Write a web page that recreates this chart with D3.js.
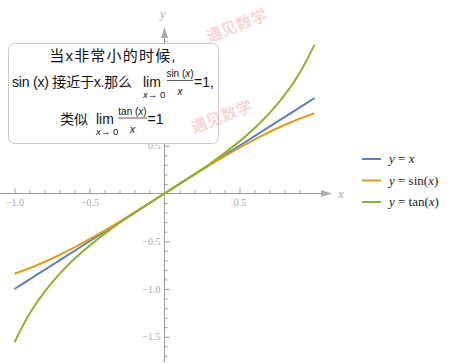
<!DOCTYPE html>
<html lang="zh">
<head>
<meta charset="utf-8">
<title>sin x, tan x near 0</title>
<script src="https://cdn.jsdelivr.net/npm/d3@7"></script>
<style>
  body { margin: 0; background: #fff; }
  svg { display: block; }
  .tick text { font-family: "Liberation Serif", serif; font-size: 10px; fill: #a9a9a9; }
  .tick line { stroke: #999; }
  .box text { font-family: "Liberation Sans", "Noto Sans CJK SC", sans-serif; fill: #111; }
</style>
</head>
<body>
<svg id="chart" width="450" height="363"></svg>
<script>
var xs      = [-1.0, -0.9, -0.8, -0.7, -0.6, -0.5, -0.4, -0.3, -0.2, -0.1, 0, 0.1, 0.2, 0.3, 0.4, 0.5, 0.6, 0.7, 0.8, 0.9, 1.0];
var sinVals = [-0.841, -0.783, -0.717, -0.644, -0.565, -0.479, -0.389, -0.296, -0.199, -0.100, 0, 0.100, 0.199, 0.296, 0.389, 0.479, 0.565, 0.644, 0.717, 0.783, 0.841];
var tanVals = [-1.557, -1.260, -1.030, -0.842, -0.684, -0.546, -0.423, -0.309, -0.203, -0.100, 0, 0.100, 0.203, 0.309, 0.423, 0.546, 0.684, 0.842, 1.030, 1.260, 1.557];
var idVals  = xs.slice();

var seriesNames  = ["x", "sin", "tan"];
var seriesColors = ["#5e81b5", "#e19c24", "#8fb131"];
var xMajor = [-1.0, -0.5, 0.5];
var yMajor = [-1.5, -1.0, -0.5, 0.5, 1.0, 1.5];
var yHidden = [1.0, 1.5]; // labels sitting under the note box

var svg = d3.select("#chart");

var x = d3.scaleLinear().domain([-1, 1]).range([14.5, 314.5]);
var y = d3.scaleLinear().domain([-1, 1]).range([289, 98]);
var x0 = x(0), y0 = y(0);

var xMinor = d3.range(-10, 10).map(function(d) { return d / 10; })
  .filter(function(d) { return d !== 0 && xMajor.indexOf(d) < 0; });
var yMinor = d3.range(-17, 17).map(function(d) { return d / 10; })
  .filter(function(d) { return d !== 0 && yMajor.indexOf(d) < 0; });

// axes lines with arrows
svg.append("line").attr("x1", 0).attr("x2", 325).attr("y1", y0).attr("y2", y0)
  .attr("stroke", "#999").attr("stroke-width", 1);
svg.append("path").attr("d", "M" + 332 + "," + y0 + "L321," + (y0 - 3.5) + "L321," + (y0 + 3.5) + "Z")
  .attr("fill", "#aaa");
svg.append("line").attr("x1", x0).attr("x2", x0).attr("y1", 362).attr("y2", 34)
  .attr("stroke", "#999").attr("stroke-width", 1);
svg.append("path").attr("d", "M" + x0 + ",27L" + (x0 - 3.5) + ",38L" + (x0 + 3.5) + ",38Z")
  .attr("fill", "#aaa");

// ticks
var fmt = d3.format(".1f");
svg.append("g").attr("transform", "translate(0," + y0 + ")")
  .call(d3.axisBottom(x).tickValues(xMinor).tickSizeInner(-3).tickSizeOuter(0).tickFormat(""))
  .call(function(g) { g.select(".domain").remove(); });
svg.append("g").attr("transform", "translate(0," + y0 + ")")
  .call(d3.axisBottom(x).tickValues(xMajor).tickSizeInner(-5).tickSizeOuter(0).tickPadding(5).tickFormat(fmt))
  .call(function(g) { g.select(".domain").remove(); });
svg.append("g").attr("transform", "translate(" + x0 + ",0)")
  .call(d3.axisLeft(y).tickValues(yMinor).tickSizeInner(-3).tickSizeOuter(0).tickFormat(""))
  .call(function(g) { g.select(".domain").remove(); });
svg.append("g").attr("transform", "translate(" + x0 + ",0)")
  .call(d3.axisLeft(y).tickValues(yMajor).tickSizeInner(-5).tickSizeOuter(0).tickPadding(4)
    .tickFormat(function(d) { return yHidden.indexOf(d) < 0 ? fmt(d) : ""; }))
  .call(function(g) { g.select(".domain").remove(); });

svg.append("text").attr("x", 341).attr("y", 198).text("x")
  .attr("font-family", "Liberation Serif, serif").attr("font-style", "italic")
  .attr("font-size", 12).attr("fill", "#aaa").attr("text-anchor", "middle");
svg.append("text").attr("x", 163).attr("y", 18).text("y")
  .attr("font-family", "Liberation Serif, serif").attr("font-style", "italic")
  .attr("font-size", 12).attr("fill", "#aaa").attr("text-anchor", "middle");

// curves
var series = [idVals, sinVals, tanVals];
var line = d3.line()
  .x(function(d) { return x(d[0]); })
  .y(function(d) { return y(d[1]); })
  .curve(d3.curveNatural);

series.forEach(function(vals, i) {
  svg.append("path")
    .datum(xs.map(function(v, j) { return [v, vals[j]]; }))
    .attr("fill", "none")
    .attr("stroke", seriesColors[i])
    .attr("stroke-width", 2)
    .attr("d", line);
});

// text box
var box = svg.append("g").attr("class", "box");
box.append("rect").attr("x", 8.5).attr("y", 43.5).attr("width", 210).attr("height", 100)
  .attr("rx", 6).attr("fill", "#fff").attr("stroke", "#c8c8c8");

box.append("text").attr("x", 113).attr("y", 61).attr("text-anchor", "middle")
  .attr("font-size", 15).attr("letter-spacing", 1.2).text("当x非常小的时候,");

box.append("text").attr("x", 12).attr("y", 86.5).attr("font-size", 14)
  .attr("textLength", 120).text("sin (x) 接近于x.那么");

function limit(lx, base, num, numCx, barX1, barX2, eqX, eqText) {
  box.append("text").attr("x", lx).attr("y", base).attr("font-size", 14).text("lim");
  var sub = box.append("text").attr("x", lx).attr("y", base + 11).attr("font-size", 9.5);
  sub.append("tspan").attr("font-style", "italic").text("x");
  sub.append("tspan").text("\u2192 0");
  var n = box.append("text").attr("x", numCx).attr("y", base - 9.5).attr("font-size", 10)
    .attr("text-anchor", "middle");
  n.append("tspan").text(num + " (");
  n.append("tspan").attr("font-style", "italic").text("x");
  n.append("tspan").text(")");
  box.append("line").attr("x1", barX1).attr("x2", barX2).attr("y1", base - 6).attr("y2", base - 6)
    .attr("stroke", "#333").attr("stroke-width", 0.8);
  box.append("text").attr("x", numCx).attr("y", base + 8.5).attr("font-size", 10)
    .attr("text-anchor", "middle").attr("font-style", "italic").text("x");
  box.append("text").attr("x", eqX).attr("y", base).attr("font-size", 14).text(eqText);
}
limit(143, 86.5, "sin", 180, 167, 193, 194, "=1,");

box.append("text").attr("x", 60).attr("y", 124).attr("font-size", 14).text("类似");
limit(96, 124, "tan", 132.5, 118, 147, 147.5, "=1");

// legend
var labels = [
  [["y", true], [" = ", false], ["x", true]],
  [["y", true], [" = sin(", false], ["x", true], [")", false]],
  [["y", true], [" = tan(", false], ["x", true], [")", false]]
];
var legY = [159, 180.5, 202];
seriesNames.forEach(function(nm, i) {
  svg.append("line").attr("x1", 362).attr("x2", 381).attr("y1", legY[i]).attr("y2", legY[i])
    .attr("stroke", seriesColors[i]).attr("stroke-width", 2);
  var t = svg.append("text").attr("x", 389).attr("y", legY[i] + 4)
    .attr("font-family", "Liberation Serif, serif").attr("font-size", 13).attr("fill", "#222");
  labels[i].forEach(function(p) {
    t.append("tspan").attr("font-style", p[1] ? "italic" : "normal").text(p[0]);
  });
});

// watermarks
[[237, 27], [222, 118]].forEach(function(p) {
  svg.append("text").attr("transform", "translate(" + p[0] + "," + p[1] + ") rotate(-21)")
    .attr("text-anchor", "middle").attr("dominant-baseline", "middle")
    .attr("font-family", "Noto Sans CJK SC").attr("font-weight", "bold").attr("font-size", 16)
    .attr("fill", "rgba(235,110,110,0.28)").text("遇见数学");
});
</script>
</body>
</html>
